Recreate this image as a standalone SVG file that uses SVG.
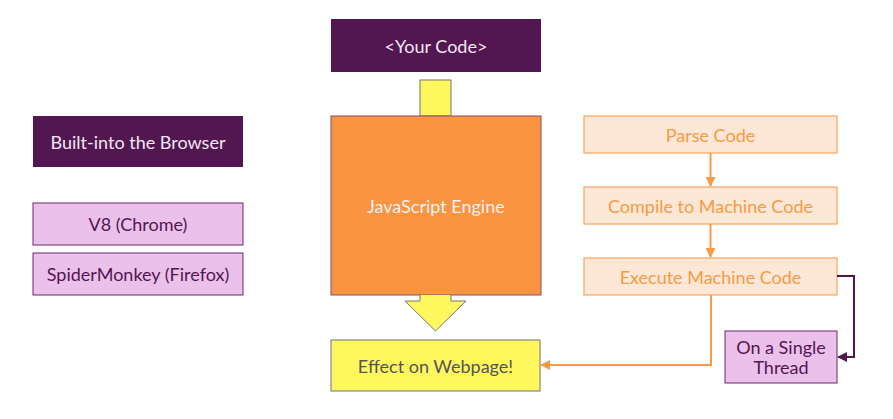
<svg xmlns="http://www.w3.org/2000/svg" width="893" height="419" viewBox="0 0 893 419">
<defs>
<style>
text{font-family:"Lato","Noto Sans",sans-serif;font-size:18px;text-anchor:middle;dominant-baseline:central}
.dark rect{fill:#521751}
.dark text{fill:#f2e6f2}
.pink rect{fill:#ebc0eb;stroke:#6b2a6b;stroke-width:1}
.pink text{fill:#521751}
.step rect{fill:#fde7d6;stroke:#f9a65a;stroke-width:1.2}
.step text{fill:#f99a45}
</style>
<marker id="ao" viewBox="0 0 10 10" refX="9" refY="5" markerWidth="5" markerHeight="5" orient="auto"><path d="M0,0L10,5L0,10z" fill="#f99a45"/></marker>
<marker id="ap" viewBox="0 0 10 10" refX="9" refY="5" markerWidth="5" markerHeight="5" orient="auto"><path d="M0,0L10,5L0,10z" fill="#521751"/></marker>
</defs>
<g id="your-code" class="dark"><rect x="331" y="19" width="210" height="53"/><text x="436" y="45.5">&lt;Your Code&gt;</text></g>
<g id="input-arrow"><rect x="420" y="80" width="31" height="36" fill="#fff75e" stroke="#777" stroke-width="1"/></g>
<g id="js-engine"><rect x="331" y="116" width="210" height="179" fill="#fa9441" stroke="#8a4a6a" stroke-width="1"/><text x="436" y="206" fill="#fdf0f0">JavaScript Engine</text></g>
<g id="output-arrow"><path d="M420,295V301H405L435.5,331L466,301H451V295" fill="#fff75e" stroke="#777" stroke-width="1"/></g>
<g id="effect"><rect x="331" y="340" width="209" height="51" fill="#fff75e" stroke="#888" stroke-width="1.2"/><text x="435.5" y="365.5" fill="#555">Effect on Webpage!</text></g>
<g id="built-into" class="dark"><rect x="33" y="116" width="210" height="51"/><text x="138" y="141.5">Built-into the Browser</text></g>
<g id="v8" class="pink"><rect x="33" y="203" width="210" height="42"/><text x="138" y="224">V8 (Chrome)</text></g>
<g id="spidermonkey" class="pink"><rect x="33" y="253" width="210" height="42"/><text x="138" y="274">SpiderMonkey (Firefox)</text></g>
<g id="parse" class="step"><rect x="584" y="116" width="253" height="37"/><text x="710.5" y="134.5">Parse Code</text></g>
<g id="compile" class="step"><rect x="584" y="187" width="253" height="37"/><text x="710.5" y="205.5">Compile to Machine Code</text></g>
<g id="execute" class="step"><rect x="584" y="258" width="253" height="37"/><text x="710.5" y="276.5">Execute Machine Code</text></g>
<g id="thread" class="pink"><rect x="725" y="331" width="112" height="52"/><text x="781" y="347">On a Single</text><text x="781" y="367">Thread</text></g>
<g id="connectors" fill="none" stroke-width="2">
<path d="M710.5,153V186" stroke="#f99a45" marker-end="url(#ao)"/>
<path d="M710.5,224V257" stroke="#f99a45" marker-end="url(#ao)"/>
<path d="M711,295V365H541" stroke="#f99a45" marker-end="url(#ao)"/>
<path d="M837,276H854V357H838" stroke="#521751" marker-end="url(#ap)"/>
</g>
</svg>
